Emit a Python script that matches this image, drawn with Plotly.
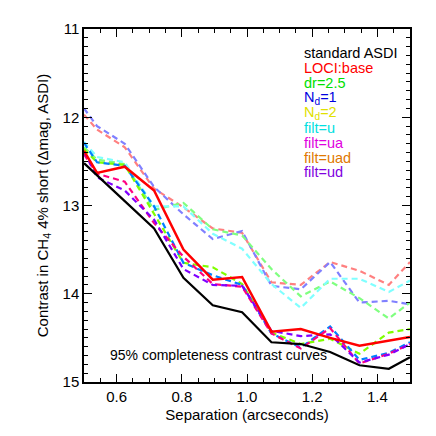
import plotly.graph_objects as go

# Separation (arcseconds)
sep = [0.5, 0.54, 0.625, 0.715, 0.805, 0.895, 0.985, 1.075, 1.165, 1.255, 1.345, 1.435, 1.5]

# Contrast curves (delta mag)
standard_asdi = [12.52, 12.66, 12.95, 13.26, 13.82, 14.13, 14.21, 14.55, 14.57, 14.66, 14.81, 14.85, 14.72]
loci_base     = [12.38, 12.63, 12.56, 12.83, 13.50, 13.84, 13.81, 14.43, 14.40, 14.50, 14.59, 14.53, 14.49]
curve_salmon  = [11.97, 12.14, 12.34, 12.81, 13.02, 13.26, 13.31, 13.87, 13.90, 13.64, 13.74, 13.90, 13.64]
curve_periw   = [11.90, 12.10, 12.30, 12.79, 13.10, 13.38, 13.29, 13.91, 13.95, 13.64, 14.10, 14.08, 14.12]
curve_lgreen  = [12.34, 12.48, 12.53, 13.05, 12.97, 13.27, 13.34, 13.72, 14.03, 13.86, 14.05, 14.28, 14.10]
curve_lcyan   = [12.28, 12.45, 12.51, 13.01, 13.01, 13.32, 13.49, 13.89, 14.16, 13.83, 13.83, 13.98, 13.85]
curve_chart   = [12.36, 12.51, 12.54, 13.09, 13.65, 13.70, 13.89, 14.44, 14.57, 14.51, 14.68, 14.44, 14.40]
curve_azure   = [12.29, 12.51, 12.55, 13.01, 13.65, 13.79, 13.90, 14.45, 14.61, 14.37, 14.75, 14.67, 14.55]
curve_violet  = [12.39, 12.68, 12.83, 13.16, 13.72, 13.90, 13.91, 14.42, 14.48, 14.46, 14.78, 14.69, 14.57]
curve_dpink   = [12.42, 12.64, 12.73, 13.20, 13.58, 13.89, 13.92, 14.45, 14.62, 14.39, 14.79, 14.68, 14.57]

dashed = [
    (curve_salmon, "#ff8080"),
    (curve_periw, "#8080ff"),
    (curve_lgreen, "#80ff80"),
    (curve_lcyan, "#80ffff"),
    (curve_chart, "#80ff00"),
    (curve_azure, "#0080ff"),
    (curve_dpink, "#ff0080"),
    (curve_violet, "#8000ff"),
]

legend_labels = ["standard ASDI", "LOCI:base", "dr=2.5", "N<sub>d</sub>=1", "N<sub>d</sub>=2",
                 "filt=u", "filt=ua", "filt=uad", "filt=ud"]
legend_colors = ["#000000", "#ff0000", "#00e000", "#0000e0", "#e0e000",
                 "#00e0e0", "#e000e0", "#e07800", "#8000e0"]

fig = go.Figure()
for ys, col in dashed:
    fig.add_trace(go.Scatter(x=sep, y=ys, mode="lines",
                             line=dict(color=col, width=2.2, dash="6px,4px"),
                             showlegend=False))
fig.add_trace(go.Scatter(x=sep, y=loci_base, mode="lines",
                         line=dict(color="#ff0000", width=2.5), showlegend=False))
fig.add_trace(go.Scatter(x=sep, y=standard_asdi, mode="lines",
                         line=dict(color="#000000", width=2.2), showlegend=False))

font_family = "Liberation Sans, Arial, Helvetica, sans-serif"

for i, (lab, col) in enumerate(zip(legend_labels, legend_colors)):
    py = 50.7 + 15 * i
    fig.add_annotation(x=(301.7 - 84) / 326, y=1 - (py - 26) / 356,
                       xref="paper", yref="paper", text=lab, showarrow=False,
                       xanchor="left", yanchor="middle",
                       font=dict(color=col, size=14.5, family=font_family))

fig.add_annotation(x=(108 - 84) / 326, y=1 - (355 - 26) / 356,
                   xref="paper", yref="paper",
                   text="95% completeness contrast curves", showarrow=False,
                   xanchor="left", yanchor="middle",
                   font=dict(color="black", size=14, family=font_family))

axis_common = dict(
    showgrid=False, zeroline=False, showline=True, linecolor="black", linewidth=1.5,
    ticks="inside", mirror="ticks", ticklen=8, tickwidth=1, tickcolor="black",
    tickfont=dict(size=15, color="black", family=font_family),
)

fig.update_xaxes(range=[0.5, 1.5], tickvals=[0.6, 0.8, 1.0, 1.2, 1.4],
                 ticktext=["0.6", "0.8", "1.0", "1.2", "1.4"],
                 minor=dict(ticks="inside", dtick=0.05, tick0=0.5, ticklen=4, tickcolor="black"),
                 title=dict(text="Separation (arcseconds)", standoff=6,
                            font=dict(size=15, color="black", family=font_family)),
                 **axis_common)
fig.update_yaxes(range=[15, 11], tickvals=[11, 12, 13, 14, 15],
                 minor=dict(ticks="inside", dtick=0.1, tick0=11, ticklen=4, tickcolor="black"),
                 title=dict(text="Contrast in CH<sub>4</sub> 4% short (\u0394mag, ASDI)", standoff=10,
                            font=dict(size=15, color="black", family=font_family)),
                 **axis_common)

fig.update_layout(
    width=436, height=436,
    margin=dict(l=76, r=34, t=18, b=62),
    plot_bgcolor="white", paper_bgcolor="white",
    font=dict(family=font_family, color="black"),
)

fig.write_html("out.html")
